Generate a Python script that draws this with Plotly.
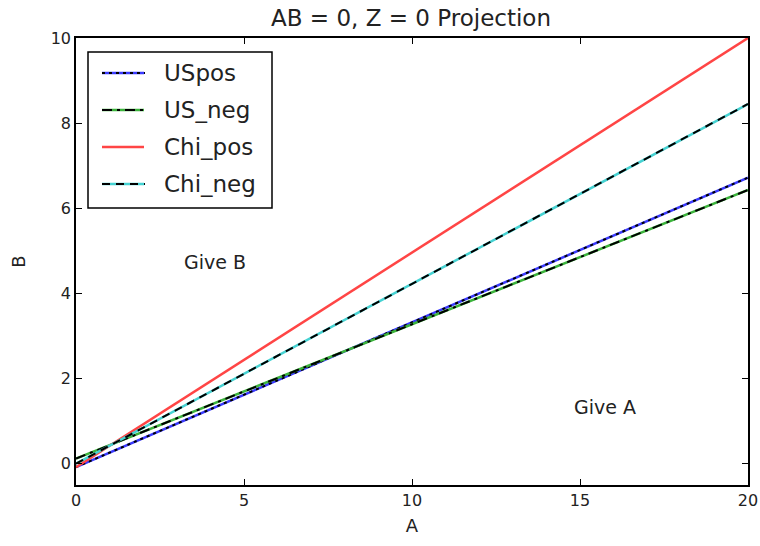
import plotly.graph_objects as go

# Data (endpoints of each straight-line projection)
A = [0, 20]
us_pos = [-0.08, 6.72]
us_neg = [0.12, 6.43]
chi_pos = [-0.08, 10.0]
chi_neg = [0.0, 8.45]

series = [
    ("USpos", us_pos, "3px,4px"),
    ("US_neg", us_neg, "10px,5px,3px,5px"),
    ("Chi_pos", chi_pos, None),
    ("Chi_neg", chi_neg, "8px,6px"),
]
series_colors = {"USpos": "#3a3aff", "US_neg": "#3cb43c", "Chi_pos": "#ff4545", "Chi_neg": "#45d2d2"}

fig = go.Figure()
for name, y, dash in series:
    col = series_colors[name]
    fig.add_trace(go.Scatter(x=A, y=y, mode="lines", line=dict(color=col, width=2.5),
                             name=name, showlegend=False))
    if dash:
        fig.add_trace(go.Scatter(x=A, y=y, mode="lines",
                                 line=dict(color="black", width=2, dash=dash),
                                 name=name, showlegend=False))

font = "DejaVu Sans, Verdana, sans-serif"

# Manual legend (paper coordinates)
x0p, x1p = 76, 748
y0p, y1p = 38, 485
def px(x):
    return (x - x0p) / (x1p - x0p)
def py(y):
    return (y1p - y) / (y1p - y0p)

shapes = [dict(type="rect", xref="paper", yref="paper", x0=px(88), x1=px(272),
               y0=py(208), y1=py(52), line=dict(color="black", width=1.5),
               fillcolor="white", layer="above")]
annotations = []
rows = [73, 110, 147, 184]
for (name, _, dash), ry in zip(series, rows):
    col = series_colors[name]
    shapes.append(dict(type="line", xref="paper", yref="paper", x0=px(102), x1=px(144),
                       y0=py(ry), y1=py(ry), line=dict(color=col, width=2.5), layer="above"))
    if dash:
        shapes.append(dict(type="line", xref="paper", yref="paper", x0=px(102), x1=px(145),
                           y0=py(ry), y1=py(ry), line=dict(color="black", width=2, dash=dash),
                           layer="above"))
    annotations.append(dict(text=name, xref="paper", yref="paper", x=px(162), y=py(ry),
                            xanchor="left", yanchor="middle", showarrow=False,
                            font=dict(family=font, size=23, color="#222")))

annotations.append(dict(text="Give B", x=4.15, y=4.73, xref="x", yref="y", showarrow=False,
                        font=dict(family=font, size=19, color="#222")))
annotations.append(dict(text="Give A", x=15.75, y=1.34, xref="x", yref="y", showarrow=False,
                        font=dict(family=font, size=19, color="#222")))

fig.update_layout(
    width=760, height=546,
    margin=dict(l=76, r=12, t=38, b=61, autoexpand=False),
    paper_bgcolor="white", plot_bgcolor="white",
    title=dict(text="AB = 0, Z = 0 Projection", x=px(411), xref="paper", xanchor="center",
               y=1 - 18 / 546, yanchor="middle", font=dict(family=font, size=23, color="#222")),
    font=dict(family=font, size=16, color="#222"),
    shapes=shapes, annotations=annotations,
    xaxis=dict(range=[0, 20], tickvals=[0, 5, 10, 15, 20], ticks="inside", ticklen=6,
               tickcolor="black", showline=True, linecolor="black", linewidth=1.5,
               mirror="allticks", showgrid=False, zeroline=False,
               title=dict(text="A", font=dict(size=18), standoff=10)),
    yaxis=dict(range=[-0.5, 10], tickvals=[0, 2, 4, 6, 8, 10], ticks="inside", ticklen=6,
               tickcolor="black", showline=True, linecolor="black", linewidth=1.5,
               mirror="allticks", showgrid=False, zeroline=False,
               title=dict(text="B", font=dict(size=18), standoff=20)),
)

fig.write_html("out.html", config={"displayModeBar": False},
               post_script="document.body.style.margin='0';document.body.style.overflow='hidden';")
